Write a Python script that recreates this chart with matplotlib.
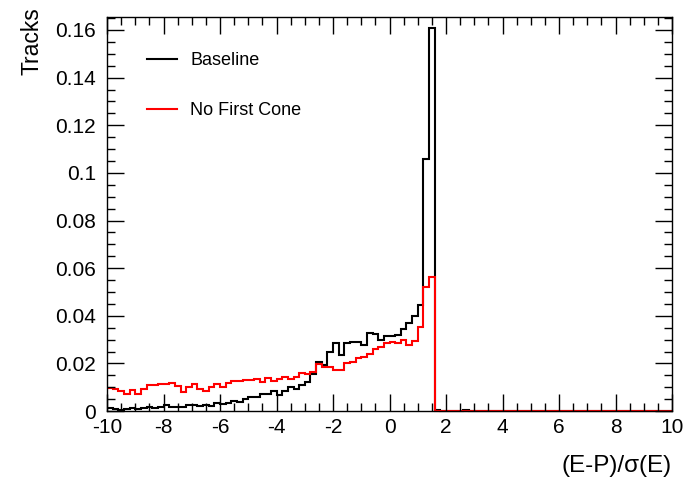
import matplotlib
matplotlib.use('Agg')
import matplotlib.pyplot as plt
import numpy as np
from matplotlib.ticker import MultipleLocator

plt.rcParams['font.family'] = ['Liberation Sans', 'DejaVu Sans']

# bin edges: 100 bins from -10 to 10
edges = np.linspace(-10, 10, 101)

# bin contents from -10.0 up to 1.4 (lower edges), rest are ~empty
baseline_peak = [
    0.0014, 0.0008, 0.0006, 0.0010, 0.0012, 0.0008, 0.0014, 0.0016, 0.0012, 0.0018,
    0.0026, 0.0016, 0.0018, 0.0016, 0.0024, 0.0026, 0.0022, 0.0026, 0.0022, 0.0034,
    0.0030, 0.0036, 0.0044, 0.0040, 0.0052, 0.0060, 0.0058, 0.0074, 0.0072, 0.0085,
    0.0067, 0.0085, 0.0102, 0.0092, 0.0109, 0.0123, 0.0158, 0.0207, 0.0193, 0.0250,
    0.0288, 0.0235, 0.0287, 0.0292, 0.0290, 0.0277, 0.0326, 0.0322, 0.0300, 0.0315,
    0.0315, 0.0320, 0.0345, 0.0372, 0.0398, 0.0445, 0.1060, 0.1610,
]
baseline_tail = [0.0004, 0, 0, 0, 0, 0.0003] + [0] * 36

nofirst_peak = [
    0.0098, 0.0095, 0.0086, 0.0074, 0.0088, 0.0070, 0.0095, 0.0110, 0.0110, 0.0116,
    0.0116, 0.0118, 0.0105, 0.0080, 0.0102, 0.0112, 0.0095, 0.0084, 0.0102, 0.0116,
    0.0102, 0.0120, 0.0126, 0.0126, 0.0130, 0.0130, 0.0136, 0.0122, 0.0138, 0.0128,
    0.0133, 0.0144, 0.0133, 0.0144, 0.0161, 0.0155, 0.0165, 0.0196, 0.0184, 0.0186,
    0.0172, 0.0172, 0.0204, 0.0207, 0.0221, 0.0228, 0.0240, 0.0259, 0.0270, 0.0286,
    0.0290, 0.0285, 0.0300, 0.0277, 0.0296, 0.0354, 0.0520, 0.0565,
]
nofirst_tail = [0] * 42

baseline = np.array(baseline_peak + baseline_tail)
nofirst = np.array(nofirst_peak + nofirst_tail)

fig = plt.figure(figsize=(7, 4.82), dpi=100)
ax = fig.add_axes([0.153, 0.147, 0.807, 0.818])

ax.stairs(baseline, edges, baseline=None, color='black', linewidth=1.5, label='Baseline', clip_on=False)
ax.stairs(nofirst, edges, baseline=None, color='red', linewidth=1.5, label='No First Cone', clip_on=False)

ax.set_xlim(-10, 10)
ax.set_ylim(0, 0.1655)

ax.xaxis.set_minor_locator(MultipleLocator(0.5))
ax.yaxis.set_minor_locator(MultipleLocator(0.005))
ax.set_yticks(np.arange(0, 0.161, 0.02))
ax.set_yticklabels(['0', '0.02', '0.04', '0.06', '0.08', '0.1', '0.12', '0.14', '0.16'])
ax.set_xticks(np.arange(-10, 10.1, 2))
ax.set_xticklabels(['-10', '-8', '-6', '-4', '-2', '0', '2', '4', '6', '8', '10'])

ax.tick_params(which='both', direction='in', top=True, right=True, labelsize=15, width=1)
ax.tick_params(which='major', length=12)
ax.tick_params(which='minor', length=6)
ax.tick_params(axis='y', pad=8)
ax.tick_params(axis='x', pad=5)
for s in ax.spines.values():
    s.set_linewidth(1)

ax.set_xlabel('(E-P)/σ(E)', fontsize=17.5, loc='right')
ax.set_ylabel('Tracks', fontsize=16.5, loc='top')
ax.xaxis.set_label_coords(1.0, -0.112)
ax.yaxis.set_label_coords(-0.112, 1.025)

ax.legend(loc='upper left', bbox_to_anchor=(0.0708, 0.911), frameon=False,
          fontsize=13, handlelength=1.65, handletextpad=0.75, labelspacing=1.85,
          borderpad=0, borderaxespad=0)

plt.savefig('out.png', dpi=100)
